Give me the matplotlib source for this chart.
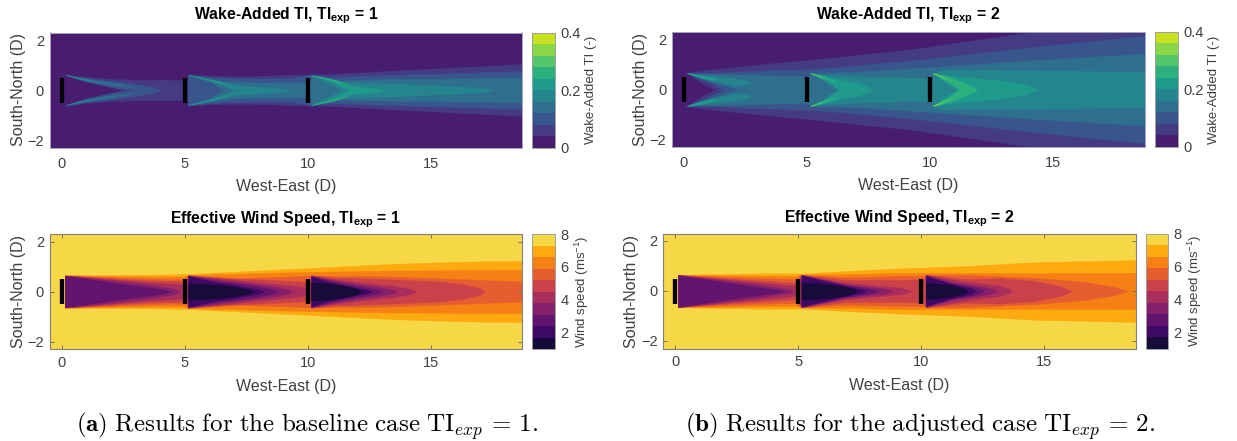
import numpy as np
import matplotlib
matplotlib.use('Agg')
import matplotlib.pyplot as plt
from matplotlib.colors import ListedColormap, BoundaryNorm
from matplotlib.colorbar import ColorbarBase

plt.rcParams['font.family'] = ['Liberation Sans', 'DejaVu Sans']
plt.rcParams['mathtext.fontset'] = 'custom'
plt.rcParams['mathtext.rm'] = 'Liberation Sans'
plt.rcParams['mathtext.bf'] = 'Liberation Sans:bold'

W, H = 1237, 441

turbine_x = [0, 5, 10]
x_ticks = [0, 5, 10, 15]
y_ticks = [-2, 0, 2]
ti_edges = [0, .04, .08, .12, .16, .2, .24, .28, .32, .36, .4]
ws_edges = [1, 1.7, 2.4, 3.1, 3.8, 4.5, 5.2, 5.9, 6.6, 7.3, 8]

# contour bands: (band, x, outer half width, inner half width)
ti1_bands = [
    (1, [.14, 1, 2, 2.44], [.63, .52, .44, .43], [.63, .39, .12, 0]),
    (1, [2.44, 3, 5.1, 5.14, 6, 7, 8, 9.3, 10.14, 11, 13.2, 16, 18.75],
     [.43, .41, .40, .63, .57, .55, .56, .6, .63, .64, .76, .9, 1.04], None),
    (2, [.14, 1, 2, 2.95], [.61, .48, .37, .24], [.61, .33, .12, 0]),
    (2, [2.95, 3.6, 3.9, 4], [.24, .13, .06, 0], None),
    (2, [5.14, 6, 7, 8, 9.3, 10.14, 11, 13.2, 16, 18.75],
     [.62, .52, .47, .46, .47, .6, .52, .6, .67, .76], None),
    (3, [.14, 1, 2, 3], [.6, .45, .3, .12], [.6, .37, .2, .12]),
    (3, [5.14, 6, 6.57], [.6, .45, .36], [.6, .35, 0]),
    (3, [6.57, 7, 8, 9.3, 10.1, 10.14, 11.3, 13.2, 16, 18.75],
     [.36, .33, .3, .3, .3, .6, .38, .43, .46, .49], None),
    (4, [.14, .7, 1.4], [.6, .48, .36], [.6, .44, .36]),
    (4, [5.14, 6, 6.8, 7], [.6, .43, .24, .21], [.6, .38, .1, 0]),
    (4, [7, 7.5, 8.5, 9.1, 9.3], [.21, .16, .1, .05, 0], None),
    (4, [10.14, 11, 11.4], [.6, .42, .3], [.6, .2, 0]),
    (4, [11.4, 13.2, 15, 16.5, 17.3, 17.6], [.3, .27, .19, .12, .06, 0], None),
    (5, [5.14, 5.8, 6.4, 6.8], [.6, .47, .34, .22], [.6, .43, .3, .22]),
    (5, [10.14, 11, 11.6, 11.7], [.6, .42, .2, .18], [.6, .32, .05, 0]),
    (5, [11.7, 12, 12.8, 13.3], [.18, .13, .07, 0], None),
    (6, [10.14, 10.8, 11.3, 11.7], [.6, .48, .35, .2], [.6, .44, .3, .2]),
]

ti2_bands = [
    (1, [.11, .8, 1.3], [.67, .76, .82], [.67, .22, 0]),
    (1, [1.3, 3.48, 5.24, 9.15, 14.2, 18.75], [.82, 1.04, 1.2, 1.6, 2.31, 2.9], None),
    (2, [.11, 1, 1.6], [.66, .66, .68], [.66, .3, 0]),
    (2, [1.6, 3.5, 5.24, 9.15, 14.2, 18.75], [.68, .77, .81, 1.15, 1.7, 2.15], None),
    (3, [.11, 1, 2.2], [.65, .62, .6], [.65, .38, 0]),
    (3, [2.2, 3.5, 4.83, 5.1, 5.13, 6.86, 9.15, 14.14, 18.75],
     [.6, .57, .53, .55, .67, .7, .84, 1.17, 1.44], None),
    (4, [.11, 1, 2, 2.5, 2.74], [.67, .55, .47, .38, .27], [.67, .37, .17, .18, .27]),
    (4, [5.13, 5.7, 6.25], [.66, .6, .57], [.66, .35, 0]),
    (4, [6.25, 7.67, 9.15, 10.1, 10.12, 10.6, 14, 18.75],
     [.57, .5, .47, .47, .66, .8, .78, .7], None),
    (5, [.11, .5, 1.1, 1.32], [.66, .6, .5, .42], [.66, .52, .38, .42]),
    (5, [5.13, 5.7, 6.25, 6.3], [.66, .55, .42, .4], [.66, .38, .04, 0]),
    (5, [6.3, 7, 7.4, 7.67], [.4, .25, .14, 0], None),
    (5, [10.12, 10.6, 11.1], [.66, .6, .52], [.66, .3, 0]),
    (5, [11.1, 11.44, 12.8, 13.8, 14.25, 14.4], [.52, .5, .37, .22, .09, 0], None),
    (6, [.11, .58], [.66, .57], [.66, .57]),
    (6, [5.13, 5.7, 6.18], [.66, .52, .3], [.66, .44, .3]),
    (6, [10.12, 10.8, 11.2], [.66, .5, .34], [.66, .26, 0]),
    (6, [11.2, 11.4, 11.8, 11.92], [.34, .26, .09, 0], None),
    (7, [5.13, 5.57], [.66, .53], [.66, .5]),
    (7, [10.12, 10.5, 10.9], [.65, .52, .35], [.65, .47, .35]),
    (8, [5.13, 5.35], [.66, .6], [.66, .6]),
    (8, [10.12, 10.5], [.65, .53], [.65, .53]),
    (9, [10.12, 10.3], [.65, .59], [.65, .59]),
]

ws1_bands = [
    (8, [.12, 3.6, 4.95, 5.14, 6.3, 9.28, 13.3, 16.05, 18.75],
     [.65, .67, .7, .7, .76, .9, 1.1, 1.19, 1.23], None),
    (7, [.12, 3.6, 4.95, 5.14, 9.28, 13.3, 18.75], [.65, .6, .6, .66, .77, .84, .87], None),
    (6, [.12, 3.6, 4.95, 5.14, 6.3, 9.28, 10.14, 13.3, 16.05, 18.75],
     [.64, .51, .49, .65, .5, .6, .64, .6, .5, .4], None),
    (5, [.12, 3.6, 5.1, 5.14, 7, 9.28, 10.1, 10.14, 11, 13.3, 15.4, 16.5, 17, 17.2],
     [.64, .44, .4, .65, .53, .42, .38, .65, .56, .49, .4, .26, .13, 0], None),
    (4, [.12, 3.6, 5.1, 5.14, 7, 9.28, 10.1, 10.14, 11, 12, 13.5, 14.2, 14.4],
     [.64, .36, .27, .64, .47, .24, .15, .64, .5, .38, .22, .1, 0], None),
    (3, [.12, 3.6, 4.6, 4.8], [.64, .27, .1, 0], None),
    (3, [5.14, 7, 8.5, 9.2, 9.36], [.64, .4, .22, .09, 0], None),
    (3, [10.14, 11, 12, 13, 13.45, 13.6], [.63, .46, .3, .16, .08, 0], None),
    (2, [.12, .88, 2.24, 3.6, 4.2, 4.4], [.63, .53, .33, .16, .07, 0], None),
    (2, [5.14, 6.3, 7.65, 8.55, 8.74], [.63, .42, .27, .09, 0], None),
    (2, [10.14, 11, 12, 12.8, 13], [.62, .4, .22, .08, 0], None),
    (1, [5.14, 6.3, 7, 8, 8.2], [.62, .36, .26, .08, 0], None),
    (1, [10.14, 11, 12, 12.45, 12.58], [.6, .33, .14, .06, 0], None),
    (0, [5.14, 6.3, 7, 7.55, 7.76], [.33, .27, .2, .1, 0], None),
    (0, [10.14, 11.1, 11.8, 12.05, 12.2], [.37, .3, .18, .09, 0], None),
]

ws2_bands = [
    (8, [.11, 3.54, 4.9, 5.13, 6.92, 9.23, 11.86, 14.57, 18.75],
     [.65, .71, .71, .7, .8, .91, 1, 1.15, 1.24], None),
    (7, [.11, 3.54, 4.9, 5.13, 6.92, 9.23, 14.57, 18.75], [.65, .61, .6, .66, .67, .73, .71, .73], None),
    (6, [.11, 3.54, 4.9, 5.13, 6.92, 9.23, 10.1, 10.18, 11.86, 14.57, 16.6, 17.9, 18.4],
     [.64, .51, .48, .65, .55, .6, .61, .65, .64, .53, .37, .16, 0], None),
    (5, [.11, 3.54, 4.9, 5.13, 6.92, 9.23, 10.1, 10.18, 11.86, 13.2, 14.57, 15.65, 16.13],
     [.64, .41, .33, .65, .44, .44, .46, .65, .47, .51, .41, .2, 0], None),
    (4, [.11, 3.54, 4.9, 5.13, 6.92, 9.23, 9.62], [.64, .33, .2, .64, .33, .12, 0], None),
    (4, [10.18, 11.86, 13.2, 13.55, 13.7], [.64, .37, .2, .1, 0], None),
    (3, [.11, 3.54, 4.6, 4.8], [.64, .24, .08, 0], None),
    (3, [5.13, 6.92, 8.5, 8.82], [.64, .27, .1, 0], None),
    (3, [10.18, 11.2, 12.5, 12.95, 13.08], [.63, .37, .17, .08, 0], None),
    (2, [.11, .83, 2.18, 3.54, 4.2, 4.42], [.63, .53, .33, .14, .06, 0], None),
    (2, [5.13, 6.92, 7.95, 8.2], [.63, .24, .09, 0], None),
    (2, [10.18, 11.2, 12.1, 12.4, 12.53], [.62, .3, .17, .08, 0], None),
    (1, [5.13, 6.25, 6.92, 7.55, 7.74], [.62, .34, .2, .08, 0], None),
    (1, [10.18, 11.2, 12, 12.2], [.6, .3, .12, 0], None),
    (0, [5.13, 6.25, 6.92, 7.25, 7.4], [.35, .27, .18, .09, 0], None),
    (0, [10.18, 11.2, 11.7, 11.88], [.33, .24, .11, 0], None),
]

ti_cmap = plt.get_cmap('viridis')(np.linspace(.08, .92, 10))
ws_cmap = plt.get_cmap('inferno')(np.linspace(.1, .9, 10))


def px_axes(fig, left, top, right, bottom):
    return fig.add_axes([left / W, 1 - bottom / H, (right - left) / W, (bottom - top) / H])


def draw_panel(fig, box, cbox, bands, colors, edges, title, cb_label, cb_ticks, cb_labels, boxed):
    ax = px_axes(fig, *box)
    ax.set_facecolor(colors[0] if not boxed else colors[-1])
    for band, xs, outer, inner in bands:
        low = np.zeros(len(xs)) if inner is None else np.array(inner)
        top = np.array(outer)
        ax.fill_between(xs, low, top, color=colors[band], lw=.25)
        ax.fill_between(xs, -top, -low, color=colors[band], lw=.25)
    for tx in turbine_x:
        ax.plot([tx, tx], [-.5, .5], color='k', lw=3.1, solid_capstyle='butt')
    ax.set_xlim(-.5, 18.72)
    ax.set_ylim(-2.3, 2.3)
    ax.set_xticks(x_ticks)
    ax.set_yticks(y_ticks)
    ax.set_xlabel('West-East (D)', fontsize=11.5, color='#404040', labelpad=6.5 if boxed else 6)
    ax.set_ylabel('South-North (D)', fontsize=11.5, color='#404040', labelpad=1)
    ax.set_title(title, fontsize=11.3, fontweight='bold', pad=8 if boxed else 9.5)
    if boxed:
        ax.tick_params(direction='in', length=3, width=.7, color='#707060', top=True, right=True,
                       labelsize=10.5, labelcolor='#404040')
        ax.tick_params(axis='x', pad=5)
        ax.tick_params(axis='y', pad=4)
        for s in ax.spines.values():
            s.set_color('#808080')
            s.set_linewidth(.8)
    else:
        ax.tick_params(length=0, labelsize=10.5, labelcolor='#404040')
        ax.tick_params(axis='x', pad=6.5)
        ax.tick_params(axis='y', pad=4)
        for s in ax.spines.values():
            s.set_color('#a9a6c4')
            s.set_linewidth(.7)

    cax = px_axes(fig, *cbox)
    cb = ColorbarBase(cax, cmap=ListedColormap(colors), norm=BoundaryNorm(edges, 10),
                      boundaries=edges, spacing='proportional', ticks=cb_ticks)
    cb.set_ticklabels(cb_labels)
    cb.ax.tick_params(length=0, labelsize=10.5, labelcolor='#404040', pad=4)
    cb.ax.minorticks_off()
    cb.outline.set_edgecolor('#a0a0a0')
    cb.outline.set_linewidth(.7)
    cb.set_label(cb_label, fontsize=9.5, color='#404040', labelpad=3)
    return ax


fig = plt.figure(figsize=(W / 100, H / 100), dpi=100)

ti_ticks = [0, .2, .4]
ti_labels = ['0', '0.2', '0.4']
ws_ticks = [2, 4, 6, 8]
ws_labels = ['2', '4', '6', '8']

draw_panel(fig, (49.6, 32.5, 522, 147.5), (532, 32.5, 554.6, 147.5), ti1_bands, ti_cmap, ti_edges,
           r'Wake-Added TI, TI$_{\mathbf{exp}}$ = 1', 'Wake-Added TI (-)', ti_ticks, ti_labels, False)
draw_panel(fig, (671.7, 32, 1144.5, 147), (1154.5, 32, 1177.6, 147), ti2_bands, ti_cmap, ti_edges,
           r'Wake-Added TI, TI$_{\mathbf{exp}}$ = 2', 'Wake-Added TI (-)', ti_ticks, ti_labels, False)
draw_panel(fig, (49.6, 234, 522, 349), (532, 234, 554.6, 349), ws1_bands, ws_cmap, ws_edges,
           r'Effective Wind Speed, TI$_{\mathbf{exp}}$ = 1', r'Wind speed (ms$^{-1}$)', ws_ticks, ws_labels, True)
draw_panel(fig, (663, 233.5, 1135.7, 348.5), (1145.5, 233.5, 1168, 348.5), ws2_bands, ws_cmap, ws_edges,
           r'Effective Wind Speed, TI$_{\mathbf{exp}}$ = 2', r'Wind speed (ms$^{-1}$)', ws_ticks, ws_labels, True)

fig.text(307 / W, 1 - 426 / H, r'$\mathbf{(a)}\ \mathrm{Results\ for\ the\ baseline\ case\ TI}_{exp}\,=\,1.$',
         fontsize=18, ha='center', va='center', math_fontfamily='cm')
fig.text(920 / W, 1 - 426 / H, r'$\mathbf{(b)}\ \mathrm{Results\ for\ the\ adjusted\ case\ TI}_{exp}\,=\,2.$',
         fontsize=18, ha='center', va='center', math_fontfamily='cm')

fig.savefig('out.png', dpi=100)
